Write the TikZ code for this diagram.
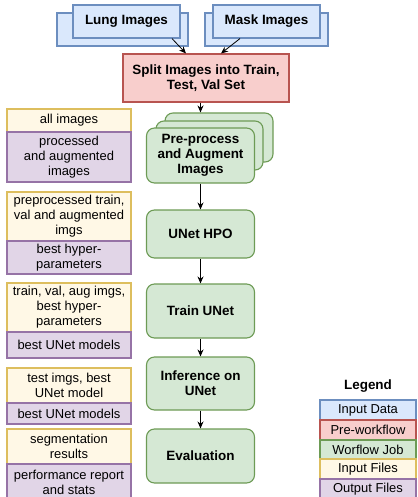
\documentclass[tikz,border=0pt]{standalone}
\usepackage{fontspec}
\setmainfont{Liberation Sans}
\usetikzlibrary{arrows.meta,calc}
\definecolor{datafill}{HTML}{DAE8FC}
\definecolor{dataline}{HTML}{6C8EBF}
\definecolor{prefill}{HTML}{F8CECC}
\definecolor{preline}{HTML}{B85450}
\definecolor{jobfill}{HTML}{D5E8D4}
\definecolor{jobline}{HTML}{6D9B55}
\definecolor{infill}{HTML}{FFF8E6}
\definecolor{inline}{HTML}{DDBE5E}
\definecolor{outfill}{HTML}{E1D5E7}
\definecolor{outline}{HTML}{9673A6}

\begin{document}
\begin{tikzpicture}[x=1bp,y=-1bp,
  box/.style={draw,line width=1.1bp,inner sep=0pt,align=center,
    font=\fontsize{13}{15}\selectfont},
  databox/.style={box,fill=datafill,draw=dataline,font=\fontsize{13.5}{15}\selectfont\bfseries},
  prebox/.style={box,fill=prefill,draw=preline,font=\fontsize{13.5}{15}\selectfont\bfseries},
  jobbox/.style={box,fill=jobfill,draw=jobline,rounded corners=8bp,
    font=\fontsize{13.5}{15}\selectfont\bfseries},
  infile/.style={box,fill=infill,draw=inline,minimum width=124bp},
  outfile/.style={box,fill=outfill,draw=outline,minimum width=124bp},
  arr/.style={-{Stealth[length=7bp,width=6bp]},line width=0.8bp}]
\clip (0,0) rectangle (417,497);

% input data
\node[databox,minimum width=131bp,minimum height=33bp] (lungback) at (122.5,29.5) {};
\node[databox,minimum width=107bp,minimum height=33bp] (lung) at (126.5,21.5) {Lung Images};
\node[databox,minimum width=123bp,minimum height=33bp] (maskback) at (266.5,29.5) {};
\node[databox,minimum width=107bp,minimum height=33bp] (mask) at (266.5,21.5) {Mask Images};

% pre-workflow
\node[prebox,minimum width=166bp,minimum height=48bp] (split) at (206,78)
  {Split Images into Train,\\Test, Val Set};

% workflow jobs
\node[jobbox,minimum width=108bp,minimum height=49bp] (preback) at (219,137.5) {};
\node[jobbox,minimum width=107bp,minimum height=49bp] (premid) at (209.5,145.5) {};
\node[jobbox,minimum width=108bp,minimum height=55bp] (pre) at (200.5,155.5)
  {Pre-process\\and Augment\\Images};
\node[jobbox,minimum width=108bp,minimum height=48bp] (hpo) at (200.5,234) {UNet HPO};
\node[jobbox,minimum width=108bp,minimum height=54bp] (train) at (200.5,311) {Train UNet};
\node[jobbox,minimum width=108bp,minimum height=53bp] (infer) at (200.5,383.5) {Inference on\\UNet};
\node[jobbox,minimum width=108bp,minimum height=54bp] (eval) at (200.5,456) {Evaluation};

\draw[arr] ($(lung.south)+(45.5,0)$) -- ($(split.north)+(-20,0)$);
\draw[arr] ($(mask.south)+(-26.5,0)$) -- ($(split.north)+(15,0)$);
\draw[arr] (pre.north |- split.south) -- (pre.north |- preback.north);
\draw[arr] (pre) -- (hpo);
\draw[arr] (hpo) -- (train);
\draw[arr] (train) -- (infer);
\draw[arr] (infer) -- (eval);

% files of each job
\node[infile,minimum height=23bp] (in1) at (69,120.5) {all images};
\node[outfile,minimum height=50bp] (out1) at (69,157) {processed\\and augmented\\images};
\node[infile,minimum height=49bp] (in2) at (69,216.5) {preprocessed train,\\val and augmented\\imgs};
\node[outfile,minimum height=33bp] (out2) at (69,257.5) {best hyper-\\parameters};
\node[infile,minimum height=49bp] (in3) at (69,307.5) {train, val, aug imgs,\\best hyper-\\parameters};
\node[outfile,minimum height=26bp] (out3) at (69,345) {best UNet models};
\node[infile,minimum height=35bp] (in4) at (69,385.5) {test imgs, best\\UNet model};
\node[outfile,minimum height=21bp] (out4) at (69,413.5) {best UNet models};
\node[infile,minimum height=35bp] (in5) at (69,446.5) {segmentation\\results};
\node[outfile,minimum height=36bp] (out5) at (69,482) {performance report\\and stats};

% legend
\node[font=\fontsize{13.5}{15}\selectfont\bfseries] (legend) at (368,386) {Legend};
\node[box,fill=datafill,draw=dataline,minimum width=96bp,minimum height=20bp] (l1) at (368,410) {Input Data};
\node[box,fill=prefill,draw=preline,minimum width=96bp,minimum height=20bp] (l2) at (368,430) {Pre-workflow};
\node[box,fill=jobfill,draw=jobline,minimum width=96bp,minimum height=19bp] (l3) at (368,449.5) {Worflow Job};
\node[box,fill=infill,draw=inline,minimum width=96bp,minimum height=20bp] (l4) at (368,469) {Input Files};
\node[box,fill=outfill,draw=outline,minimum width=96bp,minimum height=20bp] (l5) at (368,489) {Output Files};
\end{tikzpicture}
\end{document}
